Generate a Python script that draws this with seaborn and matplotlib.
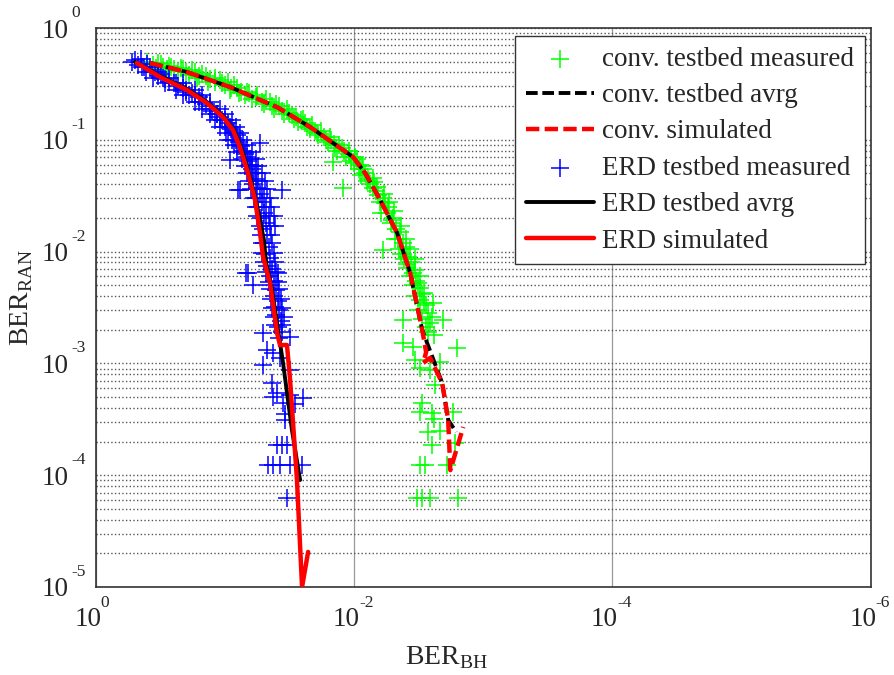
import numpy as np
import matplotlib
matplotlib.use("Agg")
import matplotlib.pyplot as plt
import matplotlib.ticker as mt
import matplotlib.transforms as mtrans
import seaborn as sns

# conventional scheme: testbed average and simulation
conv_avg_x = [0.381, 0.197, 0.0915, 0.0395, 0.0219, 0.01455, 0.0102, 0.00822, 0.00629,
              0.00464, 0.00368, 0.00297, 0.00208, 0.00187, 0.00162]
conv_avg_y = [0.486, 0.404, 0.297, 0.196, 0.130, 0.0936, 0.0702, 0.0505, 0.029,
              0.01466, 0.00644, 0.00199, 0.000668, 0.000312, 0.000243]
conv_sim_x = [0.381, 0.197, 0.0915, 0.0395, 0.0219, 0.01455, 0.0102, 0.00822, 0.00629,
              0.00464, 0.00368, 0.00297, 0.00277, 0.00292, 0.00258, 0.00208, 0.00187,
              0.0018, 0.00143]
conv_sim_y = [0.486, 0.404, 0.297, 0.196, 0.130, 0.0936, 0.0702, 0.0505, 0.029,
              0.01466, 0.00644, 0.00199, 0.00126, 0.00101, 0.00112, 0.000668, 0.000312,
              0.000111, 0.00027]

# ERD scheme: testbed average and simulation
erd_avg_x = [0.499, 0.319, 0.197, 0.138, 0.1037, 0.0851, 0.0738, 0.0629, 0.0555, 0.0499,
             0.0481, 0.0432, 0.0388, 0.0355, 0.0303, 0.0262]
erd_avg_y = [0.497, 0.372, 0.285, 0.218, 0.163, 0.1224, 0.081, 0.0437, 0.0236, 0.0127,
             0.00807, 0.00454, 0.00199, 0.00101, 0.000254, 9.05e-5]
erd_sim_x = [0.481, 0.319, 0.197, 0.138, 0.1037, 0.0867, 0.0766, 0.0664, 0.0585, 0.0535,
             0.0507, 0.0448, 0.0395, 0.0375, 0.0331, 0.0313, 0.0277, 0.0253, 0.0227]
erd_sim_y = [0.486, 0.365, 0.279, 0.213, 0.160, 0.1224, 0.0863, 0.0505, 0.029, 0.01466,
             0.00895, 0.00524, 0.00187, 0.00146, 0.00146, 0.00071, 9.05e-5, 1e-5, 2.06e-5]

# measured points, conventional
conv_meas_x = [0.40, 0.36, 0.33, 0.30, 0.27, 0.25, 0.22, 0.20, 0.18, 0.16, 0.15, 0.13, 0.12,
               0.11, 0.10, 0.09, 0.085, 0.075, 0.07, 0.065, 0.058, 0.052, 0.048, 0.043, 0.04,
               0.036, 0.033, 0.03, 0.028, 0.026, 0.024, 0.022, 0.02, 0.019, 0.017, 0.016,
               0.015, 0.014, 0.013, 0.012, 0.011, 0.0105, 0.0095, 0.009, 0.0085, 0.0146,
               0.0122, 0.0088, 0.0078, 0.0075, 0.007, 0.0068, 0.0065, 0.006, 0.0058, 0.0055,
               0.0062, 0.005, 0.0052, 0.0047, 0.0044, 0.0048, 0.0042, 0.004, 0.0045, 0.0038,
               0.0041, 0.0036, 0.0039, 0.0034, 0.0037, 0.0033, 0.0035, 0.0031, 0.0030,
               0.0034, 0.0029, 0.0032, 0.0027, 0.003, 0.0026, 0.0028, 0.00204, 0.0042,
               0.00244, 0.0060, 0.0042, 0.0035, 0.00159, 0.0034, 0.0031, 0.00257, 0.00215,
               0.00236, 0.00297, 0.0031, 0.0025, 0.00171, 0.0024, 0.00267, 0.00215, 0.0025,
               0.00165, 0.0031, 0.00282, 0.0019, 0.00325, 0.00297, 0.00257, 0.00156,
               0.34, 0.31, 0.28, 0.26, 0.23, 0.21, 0.19, 0.17, 0.165, 0.14, 0.135, 0.12,
               0.105, 0.095, 0.092, 0.08, 0.078, 0.068, 0.062, 0.056, 0.05, 0.045, 0.042,
               0.038, 0.035, 0.032, 0.029, 0.027, 0.025, 0.023, 0.021, 0.0195, 0.018, 0.0165,
               0.0155, 0.0142, 0.0135, 0.0125, 0.0115, 0.011, 0.01, 0.0098, 0.0092, 0.0087,
               0.0082, 0.008, 0.0072, 0.0071, 0.0066, 0.0063, 0.0059, 0.0056, 0.0054, 0.0051,
               0.0049, 0.0046, 0.0043, 0.0043, 0.004, 0.0039, 0.0037, 0.0035, 0.0034, 0.0032,
               0.0031, 0.0029, 0.0028, 0.0031, 0.0025, 0.0027, 0.0024]
conv_meas_y = [0.50, 0.47, 0.49, 0.45, 0.46, 0.43, 0.44, 0.40, 0.42, 0.37, 0.39, 0.35, 0.33,
               0.34, 0.31, 0.29, 0.31, 0.27, 0.25, 0.26, 0.24, 0.22, 0.23, 0.20, 0.21, 0.18,
               0.19, 0.165, 0.16, 0.15, 0.14, 0.125, 0.12, 0.11, 0.105, 0.095, 0.10, 0.085,
               0.09, 0.08, 0.075, 0.065, 0.068, 0.06, 0.055, 0.063, 0.037, 0.048, 0.045, 0.04,
               0.042, 0.035, 0.032, 0.03, 0.027, 0.025, 0.022, 0.02, 0.018, 0.016, 0.015,
               0.013, 0.012, 0.011, 0.0105, 0.009, 0.0085, 0.008, 0.0072, 0.0068, 0.006,
               0.0055, 0.005, 0.0047, 0.0042, 0.004, 0.0035, 0.003, 0.0028, 0.0025, 0.0023,
               0.0021, 0.00245, 0.00245, 0.00347, 0.0103, 0.00152, 0.0014, 0.00137, 0.00107,
               0.00091, 0.00087, 0.00103, 0.00064, 0.00044, 0.00037, 0.00036, 0.00037,
               0.00032, 0.000245, 0.00025, 0.000186, 0.000195, 0.000124, 0.000124, 0.000124,
               6.3e-5, 6.3e-5, 6.3e-5, 6.3e-5,
               0.44, 0.48, 0.43, 0.45, 0.41, 0.43, 0.38, 0.40, 0.36, 0.37, 0.33, 0.36, 0.32,
               0.33, 0.28, 0.29, 0.26, 0.27, 0.23, 0.25, 0.21, 0.22, 0.19, 0.20, 0.17, 0.175,
               0.155, 0.145, 0.155, 0.13, 0.135, 0.115, 0.12, 0.10, 0.105, 0.092, 0.08, 0.085,
               0.07, 0.08, 0.062, 0.07, 0.055, 0.058, 0.05, 0.043, 0.046, 0.037, 0.038, 0.028,
               0.033, 0.022, 0.028, 0.019, 0.023, 0.013, 0.017, 0.0095, 0.013, 0.0078, 0.0105,
               0.0065, 0.0085, 0.0052, 0.006, 0.0043, 0.0033, 0.0037, 0.0026, 0.0019, 0.0018]

# measured points, ERD
erd_meas_x = [0.50, 0.47, 0.52, 0.45, 0.42, 0.40, 0.37, 0.35, 0.33, 0.31, 0.29, 0.27, 0.25,
              0.23, 0.21, 0.20, 0.18, 0.17, 0.16, 0.15, 0.14, 0.13, 0.125, 0.115, 0.11, 0.105,
              0.095, 0.10, 0.09, 0.085, 0.08, 0.088, 0.078, 0.075, 0.072, 0.07, 0.068, 0.066,
              0.064, 0.062, 0.06, 0.058, 0.061, 0.056, 0.054, 0.057, 0.052, 0.055, 0.05, 0.053,
              0.048, 0.051, 0.047, 0.05, 0.046, 0.049, 0.045, 0.047, 0.043, 0.045, 0.042,
              0.044, 0.04, 0.042, 0.039, 0.041, 0.038, 0.04, 0.037, 0.039, 0.036, 0.038,
              0.0535, 0.0915, 0.0361, 0.079, 0.0664, 0.0607, 0.0766, 0.069, 0.0388,
              0.0507, 0.0313, 0.0472, 0.0425, 0.0507, 0.0375, 0.0313, 0.0432, 0.0395, 0.0425,
              0.0313, 0.0248, 0.0287, 0.0355, 0.0345, 0.0345, 0.0395, 0.036, 0.0331, 0.0464,
              0.0425, 0.0375, 0.0313, 0.0253, 0.0331,
              0.44, 0.38, 0.41, 0.33, 0.36, 0.30, 0.27, 0.29, 0.24, 0.21, 0.24, 0.20, 0.17,
              0.21, 0.19, 0.15, 0.17, 0.16, 0.13, 0.15, 0.13, 0.11, 0.13, 0.115, 0.10, 0.12,
              0.10, 0.088, 0.11, 0.092, 0.082, 0.098, 0.086, 0.076, 0.094, 0.082, 0.072,
              0.085, 0.076, 0.068, 0.08, 0.07, 0.062, 0.074, 0.064, 0.058, 0.07, 0.062, 0.055,
              0.068, 0.058, 0.052, 0.065, 0.055, 0.049, 0.063, 0.052, 0.047, 0.06, 0.05,
              0.045, 0.058, 0.048, 0.044, 0.056, 0.046, 0.042, 0.054, 0.045, 0.041, 0.053,
              0.044, 0.052, 0.043, 0.052, 0.042, 0.05, 0.041, 0.048, 0.04, 0.046, 0.039,
              0.045, 0.038, 0.044, 0.037, 0.043, 0.036, 0.042, 0.035, 0.041, 0.036]
erd_meas_y = [0.52, 0.47, 0.50, 0.53, 0.45, 0.48, 0.42, 0.40, 0.37, 0.39, 0.35, 0.33, 0.32,
              0.30, 0.29, 0.27, 0.26, 0.25, 0.24, 0.22, 0.21, 0.20, 0.18, 0.17, 0.16, 0.15,
              0.14, 0.13, 0.125, 0.12, 0.11, 0.10, 0.095, 0.088, 0.08, 0.075, 0.07, 0.065,
              0.06, 0.055, 0.05, 0.045, 0.04, 0.037, 0.033, 0.03, 0.028, 0.025, 0.022, 0.02,
              0.018, 0.016, 0.014, 0.012, 0.011, 0.0095, 0.0088, 0.0075, 0.007, 0.006, 0.0055,
              0.005, 0.0045, 0.004, 0.0036, 0.0032, 0.003, 0.0027, 0.0024, 0.0021, 0.0019,
              0.0017, 0.093, 0.066, 0.0356, 0.0356, 0.0064, 0.005, 0.0356, 0.0064, 0.0064,
              0.00187, 0.00174, 0.00132, 0.00124, 0.00097, 0.00112, 0.00087, 0.00067, 0.00054,
              0.0005, 0.00052, 0.00049, 0.00043, 0.00044, 0.00035, 0.00031, 0.000186,
              0.000186, 0.000186, 0.000124, 0.000124, 0.000124, 0.000124, 0.000124, 6.3e-5,
              0.45, 0.45, 0.40, 0.40, 0.36, 0.36, 0.36, 0.32, 0.32, 0.32, 0.28, 0.28, 0.28,
              0.25, 0.25, 0.25, 0.22, 0.22, 0.22, 0.19, 0.19, 0.19, 0.17, 0.17, 0.17, 0.15,
              0.15, 0.15, 0.13, 0.13, 0.13, 0.115, 0.115, 0.115, 0.10, 0.10, 0.10, 0.09,
              0.09, 0.09, 0.078, 0.078, 0.078, 0.068, 0.068, 0.068, 0.058, 0.058, 0.058,
              0.05, 0.05, 0.05, 0.043, 0.043, 0.043, 0.036, 0.036, 0.036, 0.03, 0.03, 0.03,
              0.025, 0.025, 0.025, 0.021, 0.021, 0.021, 0.017, 0.017, 0.017, 0.014, 0.014,
              0.012, 0.012, 0.0098, 0.0098, 0.008, 0.008, 0.0066, 0.0066, 0.0054, 0.0054,
              0.0046, 0.0046, 0.0038, 0.0038, 0.0031, 0.0031, 0.0026, 0.0026, 0.0022, 0.0022]

# axis ticks (matlab style labels: "10" with a raised exponent)
x_ticks = [1, 1e-2, 1e-4, 1e-6]
x_exps = ["0", "-2", "-4", "-6"]
y_ticks = [1, 1e-1, 1e-2, 1e-3, 1e-4, 1e-5]
y_exps = ["0", "-1", "-2", "-3", "-4", "-5"]

sns.set_style("white")
plt.rcParams["font.family"] = ["Liberation Serif", "DejaVu Serif"]
plt.rcParams["mathtext.fontset"] = "custom"
plt.rcParams["mathtext.rm"] = "Liberation Serif"

fig = plt.figure(figsize=(8.95, 6.75), dpi=100)
ax = fig.add_axes([0.107, 0.1304, 0.866, 0.8281])
ax.set_xscale("log")
ax.set_yscale("log")

green = "#00ff00"
blue = "#0000ff"

sns.scatterplot(x=conv_meas_x, y=conv_meas_y, marker="+", s=170, color=green,
                linewidth=1.1, ax=ax, zorder=3, label="conv. testbed measured")
sns.lineplot(x=conv_avg_x, y=conv_avg_y, sort=False, estimator=None, color="black",
             lw=2.8, ls=(0, (3, 1.2)), ax=ax, zorder=4, label="conv. testbed avrg")
sns.lineplot(x=conv_sim_x, y=conv_sim_y, sort=False, estimator=None, color="red",
             lw=3.2, ls=(0, (3, 1.2)), ax=ax, zorder=5, label="conv. simulated")
sns.scatterplot(x=erd_meas_x, y=erd_meas_y, marker="+", s=170, color=blue,
                linewidth=1.1, ax=ax, zorder=3, label="ERD testbed measured")
sns.lineplot(x=erd_avg_x, y=erd_avg_y, sort=False, estimator=None, color="black",
             lw=2.8, ax=ax, zorder=4, label="ERD testbed avrg")
sns.lineplot(x=erd_sim_x, y=erd_sim_y, sort=False, estimator=None, color="red",
             lw=3.2, ax=ax, zorder=5, label="ERD simulated")

ax.set_xlim(1, 1e-6)
ax.set_ylim(1e-5, 1)
ax.xaxis.set_major_locator(mt.FixedLocator(x_ticks))
ax.xaxis.set_minor_locator(mt.NullLocator())
ax.yaxis.set_major_locator(mt.FixedLocator(y_ticks))
ax.yaxis.set_minor_locator(mt.LogLocator(base=10, subs=np.arange(2, 10), numticks=10))

ax.grid(True, axis="y", which="both", color="#555555", ls=":", lw=1.0)
ax.grid(True, axis="x", which="major", color="#999999", ls="-", lw=0.9)
ax.tick_params(axis="both", which="both", direction="in", length=4,
               labelbottom=False, labelleft=False)
ax.tick_params(axis="y", which="minor", length=0)
for sp in ax.spines.values():
    sp.set_color("#333333")
    sp.set_linewidth(1.2)

xt = ax.get_xaxis_transform()
for v, e in zip(x_ticks, x_exps):
    ax.text(v, 0, "10", transform=mtrans.offset_copy(xt, fig=fig, x=-8, y=-33, units="dots"),
            ha="center", va="center", fontsize=19.5)
    ax.text(v, 0, e, transform=mtrans.offset_copy(xt, fig=fig, x=5, y=-16, units="dots"),
            ha="left", va="center", fontsize=12.5)
yt = ax.get_yaxis_transform()
for v, e in zip(y_ticks, y_exps):
    ax.text(0, v, "10", transform=mtrans.offset_copy(yt, fig=fig, x=-27, y=-3, units="dots"),
            ha="right", va="center", fontsize=19.5)
    ax.text(0, v, e, transform=mtrans.offset_copy(yt, fig=fig, x=-24, y=15, units="dots"),
            ha="left", va="center", fontsize=12.5)

ax.set_xlabel(r"BER$_{\mathregular{BH}}$", fontsize=20)
ax.set_ylabel(r"BER$_{\mathregular{RAN}}$", fontsize=20)
ax.xaxis.set_label_coords(0.452, -0.103)
ax.yaxis.set_label_coords(-0.078, 0.517)

h, l = ax.get_legend_handles_labels()
leg = ax.legend(h, l, loc="upper right", bbox_to_anchor=(0.992, 0.986), fontsize=19.5,
                frameon=True, fancybox=False, framealpha=1, edgecolor="#333333",
                handlelength=2.5, borderaxespad=0, labelspacing=0.42, borderpad=0.4,
                handletextpad=0.3)
leg.get_frame().set_linewidth(1.0)

fig.savefig("out.png", dpi=100)
